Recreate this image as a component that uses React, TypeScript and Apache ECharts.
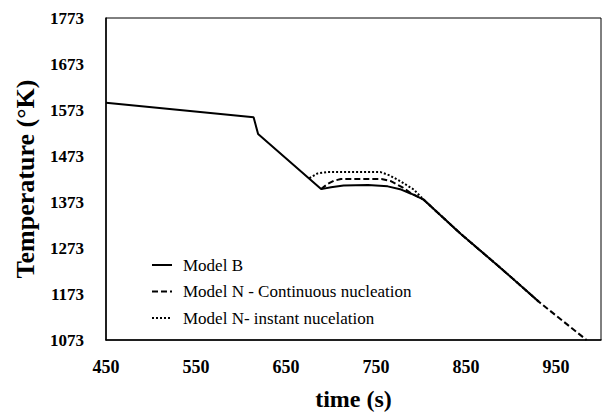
import React, { useEffect, useRef } from "react";
import * as echarts from "echarts";

const xTicks = [450, 550, 650, 750, 850, 950];
const yTicks = [1073, 1173, 1273, 1373, 1473, 1573, 1673, 1773];

const modelBTime = [450, 614, 619, 689, 700, 714, 741, 763, 778, 789, 803, 844, 890, 931];
const modelBTemp = [1589, 1557, 1521, 1401, 1405, 1409, 1410, 1407, 1400, 1391, 1378, 1304, 1227, 1156];

const contTime = [689, 696, 703, 711, 756, 767, 780, 789, 803, 844, 890, 931, 984];
const contTemp = [1401, 1412, 1419, 1423, 1423, 1418, 1404, 1392, 1378, 1304, 1227, 1156, 1073];

const instTime = [676, 685, 695, 755, 765, 778, 792, 803, 844, 890, 931];
const instTemp = [1425, 1435, 1438, 1438, 1431, 1417, 1400, 1378, 1304, 1227, 1156];

const names = ["Model B", "Model N - Continuous nucleation", "Model N- instant nucelation"];
const dashTypes: any[] = ["solid", [6, 3], [2, 2]];

const zip = (a: number[], b: number[]) => a.map((v, i) => [v, b[i]]);

export default function App() {
  const ref = useRef<HTMLDivElement>(null);
  useEffect(() => {
    const chart = echarts.init(ref.current!, undefined, { renderer: "svg" });
    const serif = "Liberation Serif";
    const legendTop = 265;
    const legendStep = 26.5;
    const legendGraphics: any[] = [];
    names.forEach((n, i) => {
      const y = legendTop + i * legendStep;
      legendGraphics.push({
        type: "line",
        shape: { x1: 152, y1: y, x2: 172, y2: y },
        style: { stroke: "#000", lineWidth: 2, lineDash: dashTypes[i] === "solid" ? null : dashTypes[i] },
      });
      legendGraphics.push({
        type: "text",
        x: 183,
        y: y,
        style: { text: n, fontFamily: serif, fontSize: 17, fill: "#000", verticalAlign: "middle", align: "left" },
      });
    });
    chart.setOption({
      animation: false,
      backgroundColor: "#fff",
      textStyle: { fontFamily: serif },
      grid: {
        left: 106,
        right: 1,
        top: 18,
        bottom: 69,
        show: true,
        borderColor: "#000",
        borderWidth: 1,
      },
      graphic: legendGraphics,
      xAxis: {
        type: "value",
        min: 450,
        max: 1000,
        name: "time (s)",
        nameLocation: "middle",
        nameGap: 47,
        nameTextStyle: { fontFamily: serif, fontSize: 24, fontWeight: "bold", color: "#000", verticalAlign: "top" },
        axisLine: { lineStyle: { color: "#000", width: 1.5 } },
        axisTick: { show: false },
        splitLine: { show: false },
        axisLabel: {
          customValues: xTicks,
          formatter: (v: number) => String(v),
          margin: 18,
          fontFamily: serif,
          fontSize: 18,
          fontWeight: "bold",
          color: "#000",
        },
      },
      yAxis: {
        type: "value",
        min: 1073,
        max: 1773,
        name: "Temperature (°K)",
        nameLocation: "middle",
        nameGap: 68,
        nameTextStyle: { fontFamily: serif, fontSize: 26, fontWeight: "bold", color: "#000" },
        axisLine: { show: true, lineStyle: { color: "#000", width: 1.5 } },
        axisTick: { show: false },
        splitLine: { show: false },
        axisLabel: {
          customValues: yTicks,
          formatter: (v: number) => String(v),
          margin: 22,
          fontFamily: serif,
          fontSize: 17,
          fontWeight: "bold",
          color: "#000",
        },
      },
      series: [
        {
          name: names[0],
          type: "line",
          data: zip(modelBTime, modelBTemp),
          symbol: "none",
          lineStyle: { color: "#000", width: 2, type: dashTypes[0] },
          z: 3,
        },
        {
          name: names[1],
          type: "line",
          data: zip(contTime, contTemp),
          symbol: "none",
          lineStyle: { color: "#000", width: 2, type: dashTypes[1] },
          z: 2,
        },
        {
          name: names[2],
          type: "line",
          data: zip(instTime, instTemp),
          symbol: "none",
          lineStyle: { color: "#000", width: 2, type: dashTypes[2] },
          z: 1,
        },
      ],
    });
    return () => chart.dispose();
  }, []);
  return <div ref={ref} style={{ width: 602, height: 416, position: "absolute", left: 0, top: 0 }} />;
}
